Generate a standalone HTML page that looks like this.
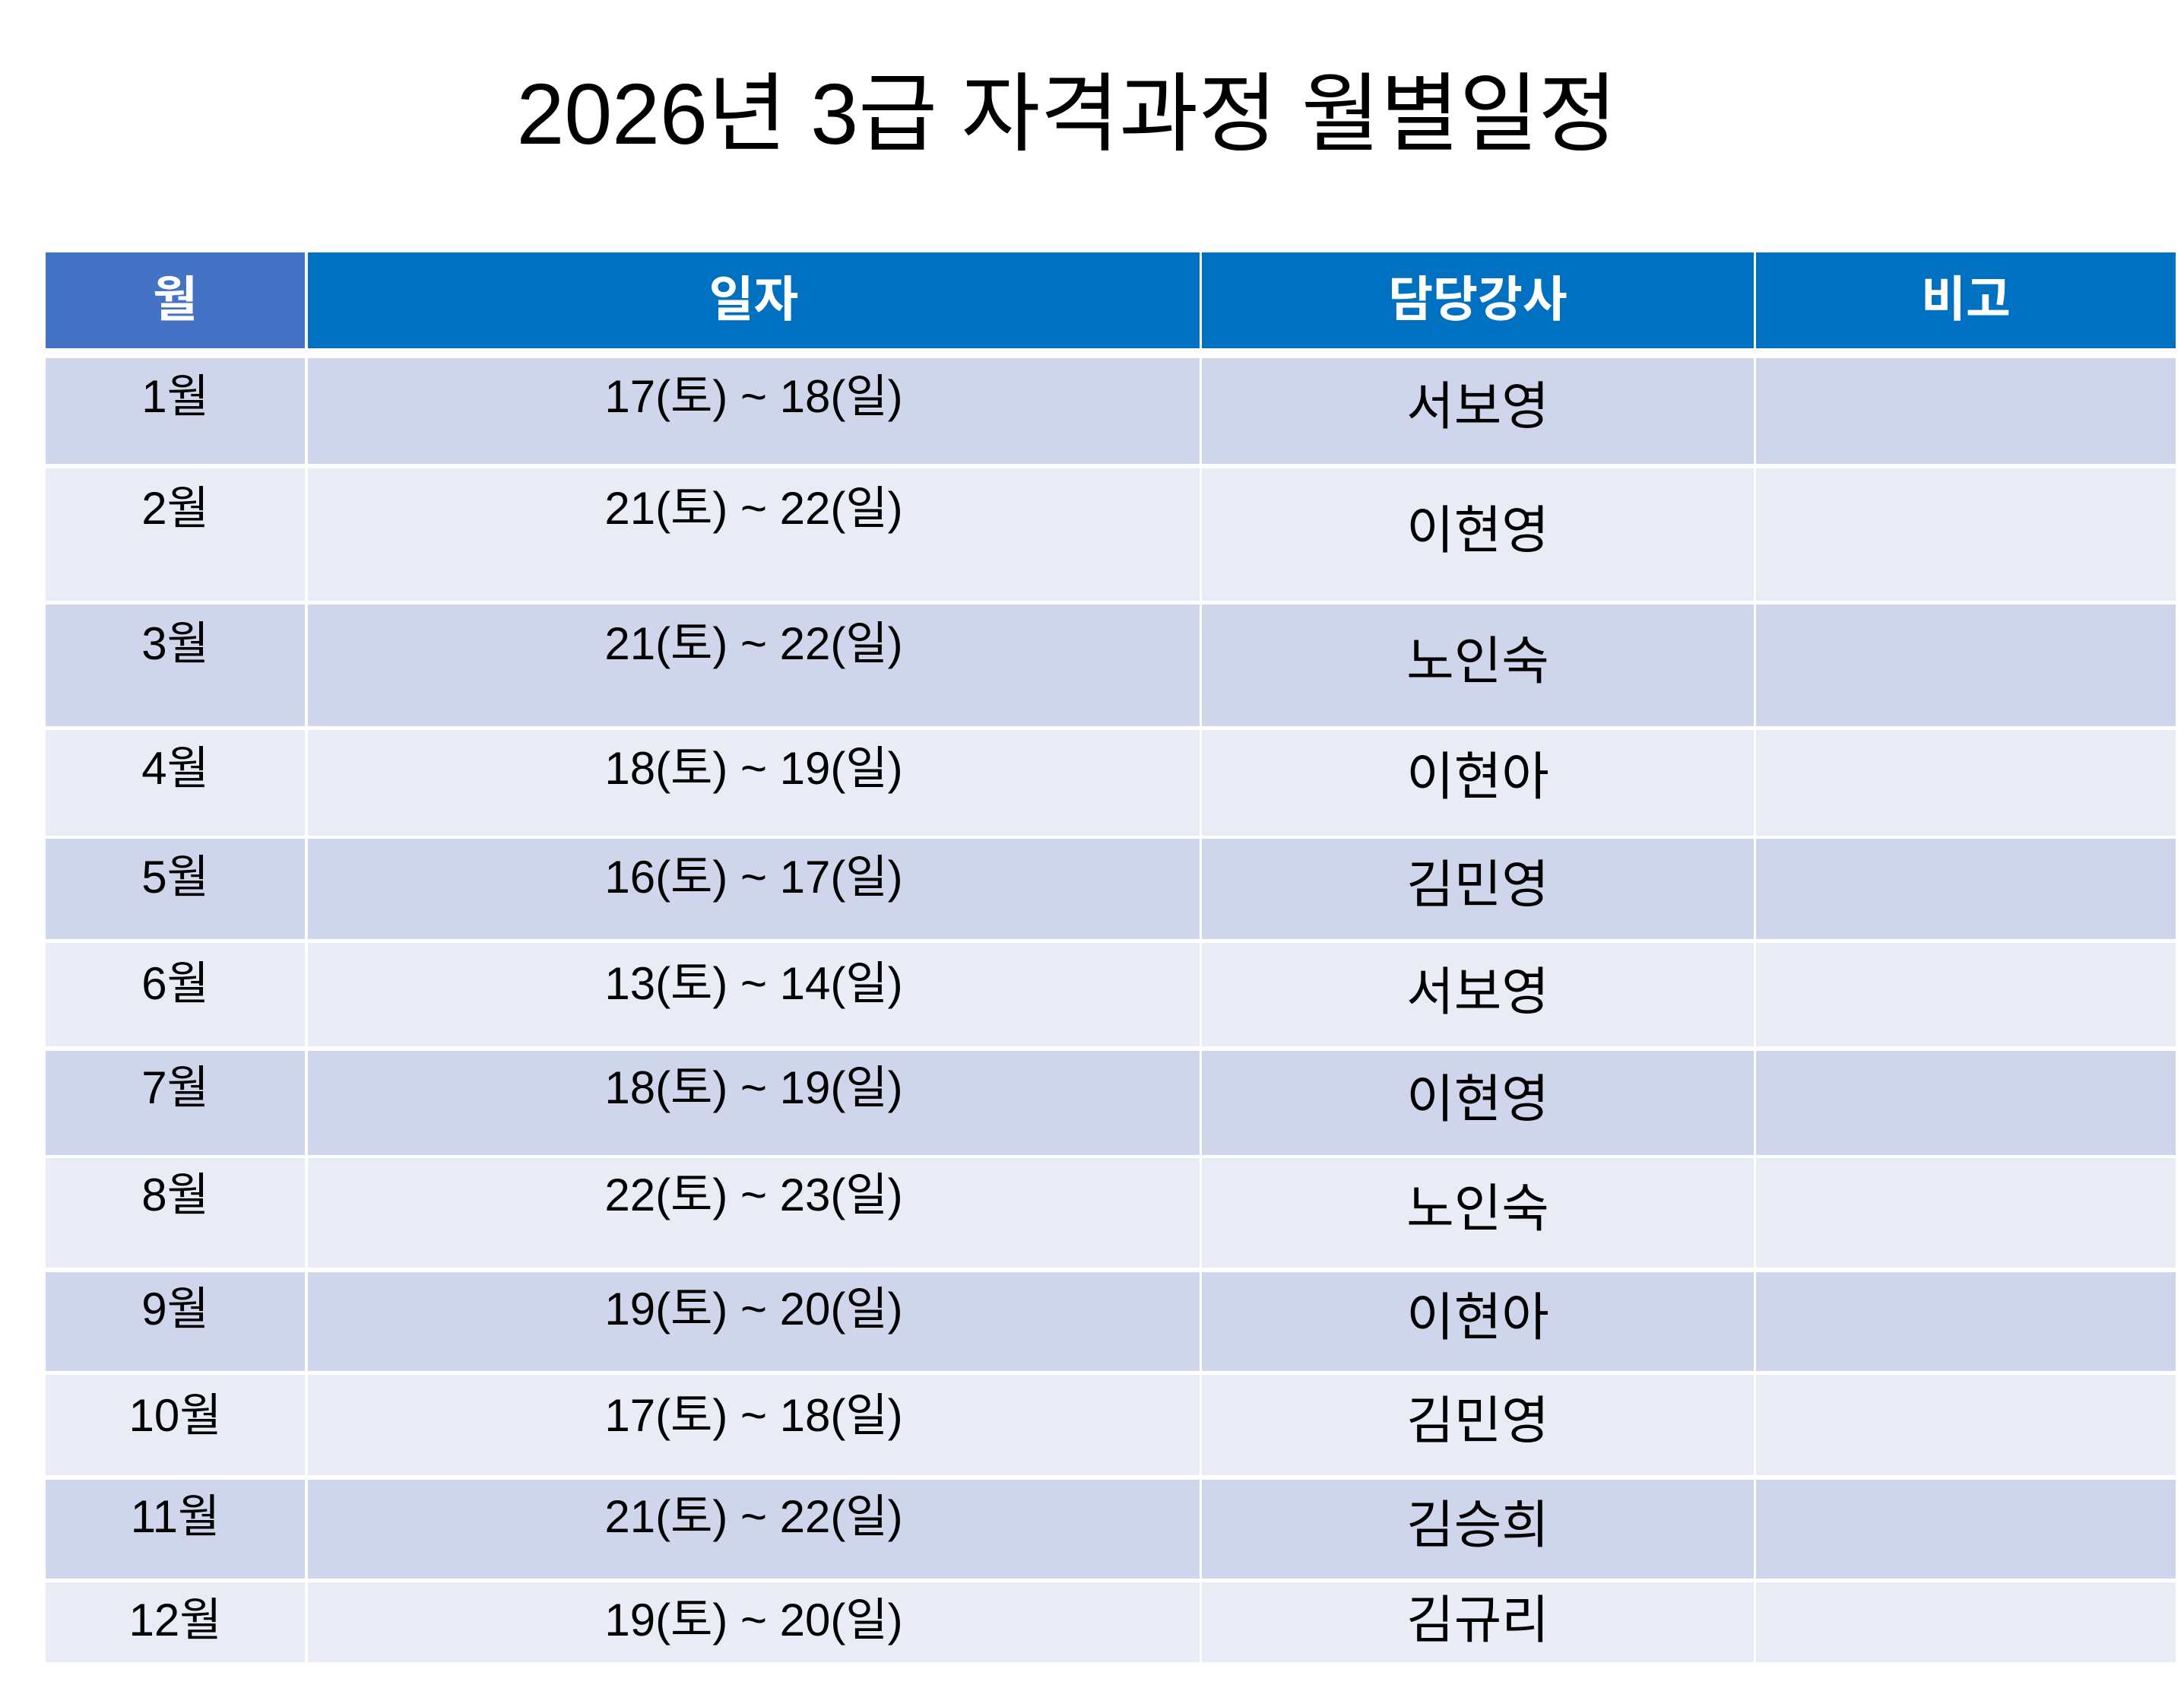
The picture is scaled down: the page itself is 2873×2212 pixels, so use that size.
<!DOCTYPE html>
<html><head><meta charset="utf-8"><style>
body{margin:0;width:2873px;height:2212px;background:#fff;position:relative;overflow:hidden;font-family:"Liberation Sans","Noto Sans CJK KR",sans-serif;}
.c{position:absolute;}
.t{position:absolute;height:100px;line-height:100px;text-align:center;color:#000;white-space:nowrap;}
.h{color:#fff;font-weight:bold;font-size:64px;}
</style></head><body>
<div class="t" style="left:-33px;width:2873px;top:100px;font-size:113px;">2026년 3급 자격과정 월별일정</div>
<script>
var cols=[[60,401],[405,1578],[1581,2307],[2310,2862]];
var g=document.body;
function box(x1,y1,x2,y2,c){var d=document.createElement('div');d.className='c';d.style.cssText='left:'+x1+'px;top:'+y1+'px;width:'+(x2-x1)+'px;height:'+(y2-y1)+'px;background:'+c;g.appendChild(d);}
function txt(x1,x2,cy,s,fs,cls){var d=document.createElement('div');d.className='t'+(cls?' '+cls:'');d.style.cssText+='left:'+x1+'px;width:'+(x2-x1)+'px;top:'+(cy-50)+'px;'+(fs?'font-size:'+fs+'px;':'');d.textContent=s;g.appendChild(d);}
var hd=['월','일자','담당강사','비고'];
for(var i=0;i<4;i++){box(cols[i][0],332,cols[i][1],458,i==0?'#4472C4':'#0070C0');txt(cols[i][0],cols[i][1],394,hd[i],null,'h');}
var rows=[[471,610],[616,790],[795,955],[960,1099],[1103,1235],[1240,1376],[1382,1519],[1523,1667],[1673,1803],[1808,1940],[1946,2076],[2081,2186]];
var mc=[285,365,462,552,630,706,781,858,940,1016,1089,1163];
var nc=[292,381,475,558,635,712,789,868,946,1020,1095,1163];
var dates=['17(토) ~ 18(일)','21(토) ~ 22(일)','21(토) ~ 22(일)','18(토) ~ 19(일)','16(토) ~ 17(일)','13(토) ~ 14(일)','18(토) ~ 19(일)','22(토) ~ 23(일)','19(토) ~ 20(일)','17(토) ~ 18(일)','21(토) ~ 22(일)','19(토) ~ 20(일)'];
var names=['서보영','이현영','노인숙','이현아','김민영','서보영','이현영','노인숙','이현아','김민영','김승희','김규리'];
for(var r=0;r<12;r++){
 var c=r%2==0?'#CFD5EA':'#E9EBF5';
 for(var i=0;i<4;i++)box(cols[i][0],rows[r][0],cols[i][1],rows[r][1],c);
 txt(cols[0][0],cols[0][1],mc[r]*1.8323,(r+1)+'월',60);
 txt(cols[1][0],cols[1][1],mc[r]*1.8323,dates[r],60);
 txt(cols[2][0],cols[2][1],nc[r]*1.8323,names[r],68);
}
</script>
</body></html>
